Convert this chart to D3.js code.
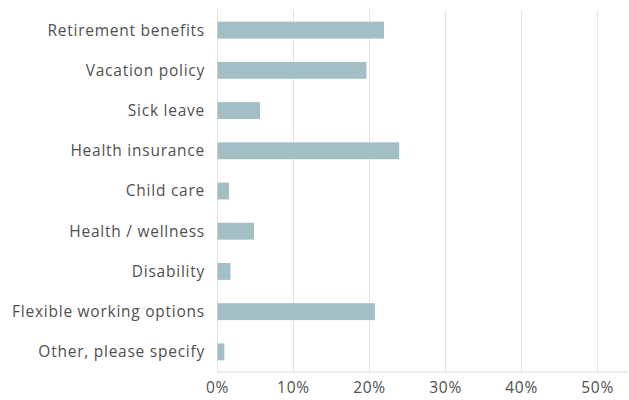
<!DOCTYPE html>
<html>
<head>
<style>
body { margin: 0; background: #fff; }
text { font-family: "Open Sans", sans-serif; fill: #505050; letter-spacing: 0.75px; }
</style>
</head>
<body>
<svg id="chart" width="629" height="400"></svg>
<script src="https://d3js.org/d3.v7.min.js"></script>
<script>
    const categories = ["Retirement benefits", "Vacation policy", "Sick leave", "Health insurance",
        "Child care", "Health / wellness", "Disability", "Flexible working options", "Other, please specify"];
    const shares = [0.219, 0.196, 0.056, 0.239, 0.015, 0.048, 0.017, 0.207, 0.009];
    const ticks = [0, 0.1, 0.2, 0.3, 0.4, 0.5];

    const svg = d3.select("#chart");
    const plot_left = 217.5, plot_right = 628, plot_top = 10, plot_bottom = 372;

    const x = d3.scaleLinear().domain([0, 0.54]).range([plot_left, plot_right]);
    const y = d3.scaleBand().domain(categories).range([plot_top, plot_bottom])
        .paddingInner(0.58).paddingOuter(0.29);

    // grid
    svg.selectAll("line.grid")
        .data(ticks)
        .enter()
        .append("line")
        .attr("x1", d => x(d))
        .attr("x2", d => x(d))
        .attr("y1", plot_top)
        .attr("y2", plot_bottom)
        .style("stroke", "#e3e3e3")
        .style("stroke-width", 1);

    // bottom axis line
    svg.append("line")
        .attr("x1", plot_left)
        .attr("x2", plot_right)
        .attr("y1", plot_bottom)
        .attr("y2", plot_bottom)
        .style("stroke", "#dcdcdc")
        .style("stroke-width", 1);

    svg.selectAll("rect.bar")
        .data(categories)
        .enter()
        .append("rect")
        .attr("x", x(0))
        .attr("y", d => y(d))
        .attr("height", y.bandwidth())
        .attr("width", (d, i) => x(shares[i]) - x(0))
        .style("fill", "#a4bec6");

    svg.selectAll("text.cat")
        .data(categories)
        .enter()
        .append("text")
        .attr("x", 205)
        .attr("y", d => y(d) + y.bandwidth() / 2)
        .attr("dy", "0.35em")
        .attr("text-anchor", "end")
        .attr("font-size", "15.5px")
        .text(d => d);

    svg.selectAll("text.tick")
        .data(ticks)
        .enter()
        .append("text")
        .attr("x", d => x(d))
        .attr("y", 393)
        .attr("text-anchor", "middle")
        .attr("font-size", "15.5px")
        .text(d => d3.format(".0%")(d));
</script>
</body>
</html>
